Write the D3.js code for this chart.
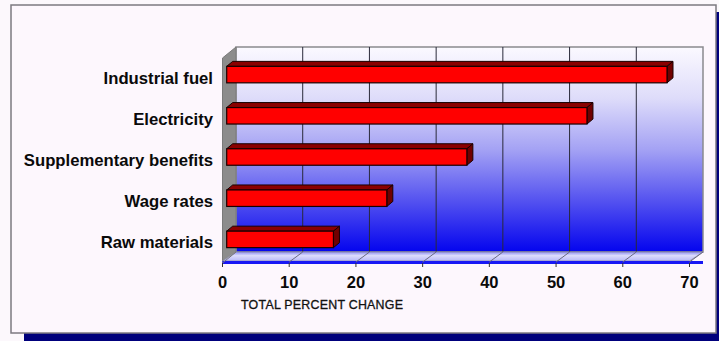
<!DOCTYPE html>
<html>
<head>
<meta charset="utf-8">
<script src="https://cdn.jsdelivr.net/npm/d3@7"></script>
<style>
  body { margin: 0; background: #fcf8fc; }
  svg { display: block; }
</style>
</head>
<body>
<script>
// chart data
var categories = ["Industrial fuel", "Electricity", "Supplementary benefits", "Wage rates", "Raw materials"];
var values = [66, 54, 36, 24, 16];
var tickValues = [0, 10, 20, 30, 40, 50, 60, 70];
var axisTitle = "TOTAL PERCENT CHANGE";

function init() {
    var w = 719, h = 341;
    // 3d depth offset of the back wall
    var dx = 13.5, dy = -11;
    var floorY = 263;
    var wallTop = 47;

    var xScale = d3.scaleLinear()
                    .domain([0, 70])
                    .range([222.5, 689.5]);
    var yScale = d3.scaleBand()
                    .domain(categories)
                    .range([54, 260])
                    .paddingInner(0.6)
                    .paddingOuter(0.3);

    var svg = d3.select("body").append("svg")
                .attr("width", w)
                .attr("height", h);

    var defs = svg.append("defs");
    var grad = defs.append("linearGradient")
                .attr("id", "wall").attr("x1", 0).attr("y1", 0).attr("x2", 0).attr("y2", 1);
    [[0, "#fbf9ff"], [0.25, "#dedcfa"], [0.5, "#a4a2f4"], [0.75, "#5452f0"], [1, "#0404ee"]]
        .forEach(function(s) { grad.append("stop").attr("offset", s[0]).attr("stop-color", s[1]); });
    var fgrad = defs.append("linearGradient")
                .attr("id", "floor").attr("x1", 0).attr("y1", 0).attr("x2", 0).attr("y2", 1);
    [[0, "#9090f6"], [0.4, "#dcdcfc"], [1, "#b8b8f8"]]
        .forEach(function(s) { fgrad.append("stop").attr("offset", s[0]).attr("stop-color", s[1]); });

    // shadow + panel
    svg.append("rect").attr("x", 24).attr("y", 12).attr("width", 720).attr("height", 340).attr("fill", "#00007c");
    svg.append("rect").attr("x", 11).attr("y", 5).attr("width", 705).attr("height", 328)
        .attr("fill", "#fdf7fd").attr("stroke", "#7c7a80").attr("stroke-width", 1.5);

    var x0 = xScale(0), x70 = xScale(70);
    // back wall
    svg.append("rect")
        .attr("x", x0 + dx).attr("y", wallTop)
        .attr("width", x70 - x0).attr("height", floorY + dy - wallTop)
        .attr("fill", "url(#wall)")
        .attr("stroke", "#8a8a8e").attr("stroke-width", 1.5);

    // grid lines on back wall
    svg.selectAll("line.grid")
        .data(tickValues.slice(1, -1))
        .enter().append("line")
        .attr("class", "grid")
        .attr("x1", function(d) { return xScale(d) + dx; })
        .attr("x2", function(d) { return xScale(d) + dx; })
        .attr("y1", wallTop).attr("y2", floorY + dy)
        .attr("stroke", "#2a2a3a").attr("stroke-width", 1);

    // left wall
    svg.append("polygon")
        .attr("points", [[x0, wallTop - dy], [x0 + dx, wallTop], [x0 + dx, floorY + dy], [x0, floorY]].join(" "))
        .attr("fill", "#8c8c8c").attr("stroke", "#7a7a7a");

    // floor
    svg.append("polygon")
        .attr("points", [[x0, floorY - 2], [x0 + dx, floorY + dy], [x70 + dx, floorY + dy], [x70, floorY - 2]].join(" "))
        .attr("fill", "url(#floor)").attr("stroke", "#8a8aa0").attr("stroke-width", 0.8);
    svg.append("rect")
        .attr("x", x0).attr("y", floorY - 2)
        .attr("width", x70 + dx - x0).attr("height", 3)
        .attr("fill", "#1818f4");
    svg.append("line")
        .attr("x1", x0).attr("x2", x0 + dx).attr("y1", floorY).attr("y2", floorY + dy)
        .attr("stroke", "#777");

    // floor diagonals and ticks
    svg.selectAll("line.diag")
        .data(tickValues.slice(1))
        .enter().append("line")
        .attr("class", "diag")
        .attr("x1", function(d) { return xScale(d); })
        .attr("x2", function(d) { return xScale(d) + dx; })
        .attr("y1", floorY - 1).attr("y2", floorY + dy)
        .attr("stroke", "#6a6a80").attr("stroke-width", 1);
    svg.selectAll("line.tick")
        .data(tickValues)
        .enter().append("line")
        .attr("class", "tick")
        .attr("x1", function(d) { return xScale(d); })
        .attr("x2", function(d) { return xScale(d); })
        .attr("y1", floorY).attr("y2", floorY + 4)
        .attr("stroke", "#333");

    // bars (3d boxes)
    var ox = 4.2, bdx = 6, bdy = -5;
    var bars = svg.selectAll("g.bar")
        .data(values)
        .enter().append("g")
        .attr("class", "bar");
    bars.append("polygon")   // top face
        .attr("points", function(d, i) {
            var y = yScale(categories[i]), xa = x0 + ox, xb = xScale(d) + ox;
            return [[xa, y], [xa + bdx, y + bdy], [xb + bdx, y + bdy], [xb, y]].join(" ");
        })
        .attr("fill", "#8a0000").attr("stroke", "#1a0000").attr("stroke-width", 1);
    bars.append("polygon")   // side face
        .attr("points", function(d, i) {
            var y = yScale(categories[i]), xb = xScale(d) + ox, bh = yScale.bandwidth();
            return [[xb, y], [xb + bdx, y + bdy], [xb + bdx, y + bdy + bh], [xb, y + bh]].join(" ");
        })
        .attr("fill", "#700000").attr("stroke", "#1a0000").attr("stroke-width", 1);
    bars.append("rect")      // front face
        .attr("x", x0 + ox)
        .attr("y", function(d, i) { return yScale(categories[i]); })
        .attr("width", function(d) { return xScale(d) - x0; })
        .attr("height", yScale.bandwidth())
        .attr("fill", "#ff0000").attr("stroke", "#1a0000").attr("stroke-width", 1.2);

    // category labels
    svg.selectAll("text.cat")
        .data(categories)
        .enter().append("text")
        .attr("class", "cat")
        .attr("x", 213)
        .attr("y", function(d) { return yScale(d) + yScale.bandwidth() / 2 + 9; })
        .attr("text-anchor", "end")
        .style("font-family", "'Liberation Sans', Arial, sans-serif")
        .style("font-weight", "bold")
        .style("font-size", "16.7px")
        .attr("fill", "#0a0a0a")
        .text(function(d) { return d; });

    // tick labels
    svg.selectAll("text.tl")
        .data(tickValues)
        .enter().append("text")
        .attr("class", "tl")
        .attr("x", function(d) { return xScale(d); })
        .attr("y", 288)
        .attr("text-anchor", "middle")
        .style("font-family", "'Liberation Sans', Arial, sans-serif")
        .style("font-weight", "bold")
        .style("font-size", "16.5px")
        .attr("fill", "#0a0a0a")
        .text(function(d) { return d; });

    // axis title
    svg.append("text")
        .attr("x", 241).attr("y", 308.5)
        .style("font-family", "'Liberation Sans', Arial, sans-serif")
        .style("font-size", "12.4px")
        .style("letter-spacing", "0.25px")
        .style("stroke", "#111").style("stroke-width", "0.3px")
        .attr("fill", "#111")
        .text(axisTitle);
}
window.onload = init;
</script>
</body>
</html>
